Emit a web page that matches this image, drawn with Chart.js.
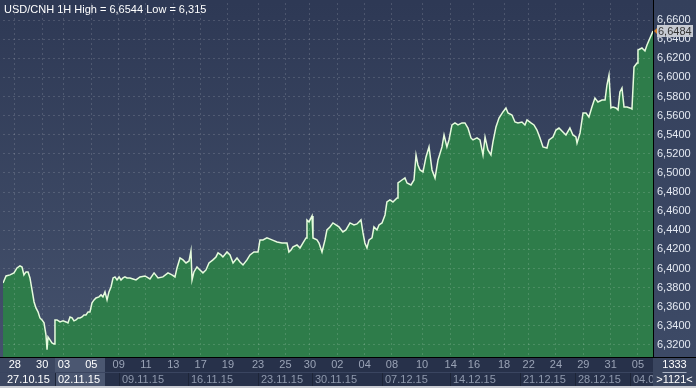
<!DOCTYPE html>
<html>
<head>
<meta charset="utf-8">
<script src="https://cdn.jsdelivr.net/npm/chart.js@4.4.0/dist/chart.umd.min.js"></script>
<style>
    html, body { margin: 0; padding: 0; background: #27314a; }
    #wrap { width: 696px; height: 388px; position: relative; }
</style>
</head>
<body>
<div id="wrap"><canvas id="chart"></canvas></div>
<script>
/* hourly closes, x in trading days from 28.10.15 */
const dayIndex = [
    -0.46, -0.24, 0.05, 0.34, 0.56, 0.78, 0.93, 1.07, 1.22, 1.37,
    1.51, 1.66, 1.81, 1.95, 2.10, 2.24, 2.39, 2.54, 2.68, 2.76,
    2.83, 2.98, 3.12, 3.27, 3.34, 3.49, 3.71, 3.93, 4.15, 4.29,
    4.44, 4.59, 4.73, 4.88, 5.03, 5.17, 5.32, 5.46, 5.61, 5.76,
    5.90, 6.05, 6.20, 6.34, 6.56, 6.71, 6.85, 7.00, 7.15, 7.29,
    7.44, 7.59, 7.73, 7.88, 8.03, 8.17, 8.32, 8.46, 8.61, 8.83,
    9.05, 9.27, 9.56, 9.93, 10.29, 10.59, 10.88, 11.24, 11.61, 11.90,
    12.12, 12.27, 12.49, 12.71, 12.93, 13.15, 13.29, 13.37, 13.51, 13.73,
    13.95, 14.17, 14.39, 14.61, 14.90, 15.12, 15.27, 15.49, 15.63, 15.93,
    16.15, 16.37, 16.66, 16.88, 17.10, 17.39, 17.61, 17.90, 18.20, 18.34,
    18.56, 18.85, 19.22, 19.59, 19.95, 20.32, 20.46, 20.61, 20.76, 21.05,
    21.27, 21.49, 21.71, 21.78, 21.93, 22.15, 22.22, 22.51, 22.66, 22.88,
    23.10, 23.24, 23.46, 23.68, 23.90, 24.12, 24.41, 24.63, 24.93, 25.22,
    25.44, 25.73, 25.88, 26.02, 26.17, 26.32, 26.54, 26.68, 26.90, 27.05,
    27.27, 27.49, 27.63, 27.85, 28.07, 28.37, 28.44, 28.73, 28.95, 29.10,
    29.39, 29.61, 29.76, 29.90, 30.05, 30.27, 30.49, 30.71, 30.93, 31.15,
    31.37, 31.66, 31.81, 32.02, 32.17, 32.39, 32.61, 32.83, 33.12, 33.34,
    33.56, 33.78, 33.93, 34.22, 34.44, 34.66, 34.81, 35.02, 35.24, 35.39,
    35.61, 35.83, 36.12, 36.34, 36.49, 36.78, 37.00, 37.22, 37.51, 37.73,
    37.88, 38.17, 38.39, 38.61, 38.83, 39.05, 39.34, 39.49, 39.78, 40.00,
    40.22, 40.51, 40.73, 41.02, 41.24, 41.46, 41.54, 41.76, 41.98, 42.20,
    42.41, 42.63, 42.85, 43.07, 43.37, 43.59, 43.73, 43.88, 44.02, 44.17,
    44.39, 44.54, 44.68, 44.83, 44.98, 45.20, 45.41, 45.56, 45.71, 45.93,
    46.00, 46.29, 46.51, 46.66, 46.88, 47.10
];

const closes = [
    6.3849, 6.3922, 6.3933, 6.3954, 6.4006, 6.4027, 6.4016, 6.3933, 6.3964, 6.3964,
    6.3901, 6.3776, 6.3650, 6.3588, 6.3546, 6.3483, 6.3462, 6.3431, 6.3305, 6.3150,
    6.3284, 6.3253, 6.3222, 6.3211, 6.3462, 6.3462, 6.3441, 6.3452, 6.3441, 6.3431,
    6.3493, 6.3483, 6.3452, 6.3462, 6.3483, 6.3483, 6.3493, 6.3514, 6.3514, 6.3546,
    6.3546, 6.3640, 6.3671, 6.3692, 6.3703, 6.3724, 6.3703, 6.3755, 6.3671, 6.3755,
    6.3807, 6.3901, 6.3912, 6.3880, 6.3912, 6.3880, 6.3901, 6.3912, 6.3901, 6.3901,
    6.3891, 6.3880, 6.3912, 6.3922, 6.3891, 6.3954, 6.3901, 6.3912, 6.3954, 6.3933,
    6.3912, 6.4006, 6.4110, 6.4090, 6.4058, 6.4079, 6.4184, 6.3880, 6.3964, 6.4016,
    6.3985, 6.3954, 6.3985, 6.4058, 6.4090, 6.4121, 6.4163, 6.4142, 6.4121, 6.4173,
    6.4142, 6.4058, 6.4110, 6.4069, 6.4037, 6.4090, 6.4142, 6.4173, 6.4173, 6.4299,
    6.4299, 6.4320, 6.4299, 6.4278, 6.4267, 6.4267, 6.4173, 6.4194, 6.4226, 6.4246,
    6.4215, 6.4267, 6.4320, 6.4508, 6.4487, 6.4550, 6.4320, 6.4299, 6.4267, 6.4173,
    6.4299, 6.4403, 6.4435, 6.4477, 6.4456, 6.4435, 6.4382, 6.4403, 6.4477, 6.4456,
    6.4466, 6.4508, 6.4372, 6.4267, 6.4215, 6.4299, 6.4320, 6.4435, 6.4403, 6.4456,
    6.4477, 6.4560, 6.4696, 6.4717, 6.4696, 6.4738, 6.4895, 6.4926, 6.4947, 6.4895,
    6.4874, 6.4926, 6.5188, 6.5083, 6.5031, 6.5010, 6.5167, 6.5272, 6.5031, 6.4947,
    6.5136, 6.5272, 6.5397, 6.5272, 6.5345, 6.5502, 6.5523, 6.5502, 6.5523, 6.5523,
    6.5470, 6.5366, 6.5345, 6.5366, 6.5345, 6.5188, 6.5376, 6.5240, 6.5188, 6.5324,
    6.5481, 6.5575, 6.5638, 6.5680, 6.5627, 6.5606, 6.5533, 6.5523, 6.5533, 6.5502,
    6.5554, 6.5523, 6.5502, 6.5449, 6.5366, 6.5272, 6.5261, 6.5345, 6.5376, 6.5449,
    6.5470, 6.5428, 6.5397, 6.5470, 6.5397, 6.5376, 6.5313, 6.5418, 6.5627, 6.5627,
    6.5585, 6.5690, 6.5784, 6.5742, 6.5763, 6.5763, 6.5920, 6.6025, 6.5680, 6.5690,
    6.5680, 6.5659, 6.5847, 6.5889, 6.5690, 6.5690, 6.5680, 6.5669, 6.6108, 6.6150,
    6.6286, 6.6307, 6.6276, 6.6339, 6.6412, 6.6484
];

const priceTicks = [6.32, 6.34, 6.36, 6.38, 6.40, 6.42, 6.44, 6.46, 6.48,
                    6.50, 6.52, 6.54, 6.56, 6.58, 6.60, 6.62, 6.64, 6.66];

const dayTickPos = [0.4, 2.4, 4, 6, 8, 10, 12, 14, 16, 18.2, 20.2, 22,
                    24, 26, 28, 30.2, 32.3, 34, 36.2, 38, 40, 42, 44, 46];
const dayTickLabels = ['28', '30', '03', '05', '09', '11', '13', '17', '19', '23', '25', '30',
                       '02', '04', '08', '10', '14', '16', '18', '22', '24', '29', '31', '05'];

const weekStart = [-0.46, 3.34, 8.02, 13.07, 18.19, 22.14, 27.27, 32.24, 37.37, 41.39, 45.41];
const weekLabels = ['27.10.15', '02.11.15', '09.11.15', '16.11.15', '23.11.15', '30.11.15',
                    '07.12.15', '14.12.15', '21.12.15', '28.12.15', '04.01.16'];
const highlightEnd = 7.0;

const title = 'USD/CNH 1H High = 6,6544 Low = 6,315';
const barCount = '1333';
const barRange = '>1121<';

const FONT = '"Liberation Sans Narrow", "Liberation Sans", Arial, sans-serif';

function fmt(v) {
    return v.toFixed(4).replace('.', ',');
}


/* panel backgrounds, drawn under everything */
const backdrop = {
    id: 'backdrop',
    beforeDraw(chart) {
        const {ctx, chartArea: a, width} = chart;
        ctx.save();
        ctx.fillStyle = '#27314a';
        ctx.fillRect(0, 0, width, chart.height);

        let g = ctx.createLinearGradient(0, a.top, 0, a.bottom);
        g.addColorStop(0, '#2e3955');
        g.addColorStop(1, '#44516c');
        ctx.fillStyle = g;
        ctx.fillRect(0, 0, a.right, a.bottom);

        g = ctx.createLinearGradient(0, 0, 0, a.bottom);
        g.addColorStop(0, '#34405c');
        g.addColorStop(1, '#3d4a66');
        ctx.fillStyle = g;
        ctx.fillRect(a.right, 0, width - a.right, a.bottom);
        ctx.restore();
    }
};


/* date strip, title, price tag */
const overlay = {
    id: 'overlay',
    afterDraw(chart) {
        const {ctx, chartArea: a, width, height} = chart;
        const x = chart.scales.x;
        const y = chart.scales.y;
        const top = a.bottom + 1;
        const mid = top + 14;
        const bot = height - 2;

        ctx.save();

        // week boxes
        const px = d => Math.max(0, Math.round(x.getPixelForValue(d)));
        const hl = px(highlightEnd);
        ctx.fillStyle = '#27314a';
        ctx.fillRect(0, top, a.right, bot - top);
        ctx.fillStyle = '#3c4761';
        ctx.fillRect(0, top, px(weekStart[1]), bot - top);
        ctx.fillStyle = '#4b5771';
        ctx.fillRect(px(weekStart[1]), top, hl - px(weekStart[1]), bot - top);

        ctx.strokeStyle = '#1d2538';
        ctx.lineWidth = 1;
        weekStart.forEach((d, i) => {
            if (i === 0) return;
            const p = px(d) + 0.5;
            ctx.beginPath();
            ctx.moveTo(p, mid);
            ctx.lineTo(p, bot);
            ctx.stroke();
        });
        ctx.strokeStyle = '#3a4560';
        ctx.beginPath();
        ctx.moveTo(0, mid + 0.5);
        ctx.lineTo(a.right, mid + 0.5);
        ctx.stroke();

        // day numbers
        ctx.font = '11px ' + FONT;
        ctx.textBaseline = 'middle';
        ctx.textAlign = 'center';
        dayTickPos.forEach((d, i) => {
            const p = x.getPixelForValue(d);
            ctx.fillStyle = p < hl ? '#ffffff' : '#9aa3b6';
            ctx.fillText(dayTickLabels[i], p, top + 7);
        });

        // week dates
        ctx.textAlign = 'left';
        weekStart.forEach((d, i) => {
            const p = i === 0 ? 7 : px(d) + 3;
            ctx.fillStyle = p < hl ? '#ffffff' : '#8f99ad';
            ctx.save();
            ctx.beginPath();
            ctx.rect(0, mid, a.right, bot - mid);
            ctx.clip();
            ctx.fillText(weekLabels[i], p, mid + 7.5);
            ctx.restore();
        });

        // corner box
        ctx.fillStyle = '#3a4660';
        ctx.fillRect(a.right, top, width - a.right, bot - top);
        ctx.fillStyle = '#ffffff';
        ctx.textAlign = 'center';
        const cx = (a.right + width) / 2;
        ctx.fillText(barCount, cx, top + 7);
        ctx.fillText(barRange, cx, mid + 7.5);
        ctx.strokeStyle = '#aab3c4';
        ctx.beginPath();
        ctx.moveTo(cx - 12, mid + 0.5);
        ctx.lineTo(cx + 12, mid + 0.5);
        ctx.stroke();

        // separators
        ctx.strokeStyle = '#000000';
        ctx.beginPath();
        ctx.moveTo(a.right + 0.5, 0);
        ctx.lineTo(a.right + 0.5, a.bottom + 1);
        ctx.moveTo(0, a.bottom + 0.5);
        ctx.lineTo(width, a.bottom + 0.5);
        ctx.stroke();

        ctx.fillStyle = '#c9ccd3';
        ctx.fillRect(0, bot, width, height - bot);

        // title
        ctx.font = '11px ' + FONT;
        ctx.textAlign = 'left';
        ctx.fillStyle = '#ffffff';
        ctx.fillText(title, 4, 10);

        // last price tag
        const last = closes[closes.length - 1];
        const ly = Math.round(y.getPixelForValue(last));
        ctx.fillStyle = '#c6cad2';
        ctx.fillRect(a.right + 4, ly - 6, width - a.right - 7, 12);
        ctx.fillStyle = '#d9822b';
        ctx.beginPath();
        ctx.moveTo(a.right + 1, ly);
        ctx.lineTo(a.right + 4, ly - 3);
        ctx.lineTo(a.right + 4, ly + 3);
        ctx.closePath();
        ctx.fill();
        ctx.fillStyle = '#333333';
        ctx.font = '11px ' + FONT;
        ctx.fillText(fmt(last), a.right + 5, ly + 0.5);

        ctx.restore();
    }
};


const gridColor = 'rgba(255, 255, 255, 0.14)';

new Chart(document.getElementById('chart'), {
    type: 'line',
    data: {
        datasets: [{
            data: dayIndex.map((d, i) => ({x: d, y: closes[i]})),
            borderColor: '#e6fbdd',
            borderWidth: 1.5,
            backgroundColor: '#2e7c4a',
            fill: 'start',
            pointRadius: 0,
            tension: 0
        }]
    },
    options: {
        responsive: true,
        maintainAspectRatio: false,
        animation: false,
        events: [],
        layout: {
            padding: {left: 3, top: 3, right: 0, bottom: 0}
        },
        plugins: {
            legend: {display: false},
            tooltip: {enabled: false}
        },
        scales: {
            x: {
                type: 'linear',
                min: -0.463,
                max: 47.10,
                grid: {color: gridColor, drawTicks: false, z: 1},
                border: {display: false, dash: [2, 3]},
                ticks: {display: false},
                afterBuildTicks: scale => {
                    scale.ticks = dayTickPos.map(v => ({value: v}));
                },
                afterFit: scale => {
                    scale.height = 31;
                }
            },
            y: {
                position: 'right',
                min: 6.3074,
                max: 6.6778,
                grid: {color: gridColor, drawTicks: false, z: 1},
                border: {display: false, dash: [2, 3]},
                ticks: {
                    color: '#e4e9f2',
                    autoSkip: false,
                    padding: 4,
                    font: {size: 11, family: FONT},
                    callback: v => fmt(v)
                },
                afterBuildTicks: scale => {
                    scale.ticks = priceTicks.map(v => ({value: v}));
                },
                afterFit: scale => {
                    scale.width = 43;
                    scale.paddingTop = 0;
                    scale.paddingBottom = 0;
                }
            }
        }
    },
    plugins: [backdrop, overlay]
});
</script>
</body>
</html>
